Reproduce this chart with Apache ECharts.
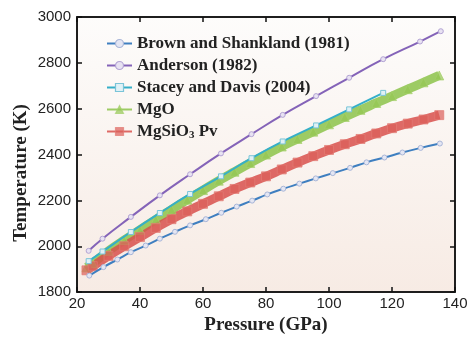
<!DOCTYPE html>
<html><head><meta charset="utf-8">
<script src="https://cdn.jsdelivr.net/npm/echarts@6/dist/echarts.min.js"></script>
<style>html,body{margin:0;padding:0;background:#fff;}#c{width:471px;height:340px;}</style>
</head><body><div id="c"></div>
<script>
// Tick labels
const xTicks = [20, 40, 60, 80, 100, 120, 140];
const yTicks = [1800, 2000, 2200, 2400, 2600, 2800, 3000];

// Brown and Shankland (1981)
const brownP = [23.9, 28.4, 32.8, 37.1, 41.8, 46.3, 51.1, 55.9, 60.9, 65.8, 70.7, 75.6, 80.4, 85.5, 90.6, 95.8, 101.2, 106.7, 111.9, 117.6, 123.3, 129.1, 135.2];
const brownT = [1872, 1909, 1942, 1974, 2003, 2033, 2063, 2091, 2118, 2146, 2173, 2199, 2226, 2251, 2273, 2296, 2319, 2342, 2366, 2387, 2409, 2429, 2448];

// Anderson (1982)
const andP = [23.7, 28.1, 37.1, 46.3, 55.9, 65.7, 75.4, 85.3, 95.9, 106.4, 117.2, 128.9, 135.5];
const andT = [1980, 2033, 2128, 2222, 2314, 2405, 2489, 2573, 2655, 2735, 2816, 2893, 2938];

// Stacey and Davis (2004)
const staP = [23.7, 28.1, 37.1, 46.3, 55.9, 65.7, 75.4, 85.3, 95.9, 106.4, 117.2];
const staT = [1935, 1977, 2062, 2145, 2228, 2305, 2384, 2457, 2527, 2597, 2669];

// MgO
const mgoP = [23, 25, 30, 35, 40, 45, 50, 55, 60, 65, 70, 75, 80, 85, 90, 95, 100, 105, 110, 115, 120, 125, 130, 135];
const mgoT = [1908, 1926, 1980, 2027, 2072, 2117, 2160, 2203, 2245, 2286, 2325, 2363, 2400, 2435, 2468, 2500, 2532, 2564, 2595, 2625, 2655, 2685, 2715, 2745];

// MgSiO3 Pv
const pvP = [23, 25, 30, 35, 40, 45, 50, 55, 60, 65, 70, 75, 80, 85, 90, 95, 100, 105, 110, 115, 120, 125, 130, 135];
const pvT = [1895, 1913, 1958, 2000, 2040, 2080, 2118, 2152, 2185, 2218, 2250, 2278, 2305, 2335, 2365, 2393, 2420, 2445, 2468, 2492, 2515, 2535, 2553, 2572];

const names = ['Brown and Shankland (1981)', 'Anderson (1982)', 'Stacey and Davis (2004)', 'MgO', 'MgSiO3 Pv'];
const colors = ['#3f7fc0', '#8463b8', '#35afc8', '#8cc34a', '#d8504c'];

function zip(a, b) { return a.map((v, i) => [v, b[i]]); }

const chart = echarts.init(document.getElementById('c'), null, {renderer: 'canvas'});
const tickFont = {fontFamily: 'Liberation Sans', fontSize: 15, color: '#222'};
const titleFont = {fontFamily: 'Liberation Serif', fontSize: 19, fontWeight: 'bold', color: '#222'};

const option = {
  animation: false,
  backgroundColor: '#fff',
  grid: {
    left: 77, right: 16, top: 17, bottom: 38, show: true,
    borderColor: '#111', borderWidth: 1.5,
    backgroundColor: new echarts.graphic.LinearGradient(0, 0, 0, 1, [
      {offset: 0, color: '#fdfcfb'}, {offset: 1, color: '#f7ebe4'}])
  },
  graphic: [{
    type: 'text', x: 21, y: 173, rotation: Math.PI / 2,
    style: {text: 'Temperature (K)', fontFamily: 'Liberation Serif', fontSize: 19, fontWeight: 'bold',
      fill: '#222', align: 'center', verticalAlign: 'middle'}
  }],
  xAxis: [{
    type: 'value', min: 20, max: 140, interval: 20, position: 'bottom',
    axisLine: {show: true, lineStyle: {color: '#111', width: 1.5}},
    axisTick: {show: true, inside: true, length: 5, lineStyle: {color: '#111', width: 1.5}},
    axisLabel: Object.assign({margin: 4, formatter: v => xTicks.includes(v) ? String(v) : ''}, tickFont),
    splitLine: {show: false},
    name: 'Pressure (GPa)', nameLocation: 'middle', nameGap: 23, nameTextStyle: titleFont
  }, {
    type: 'value', min: 20, max: 140, interval: 20, position: 'top',
    axisLine: {show: true, lineStyle: {color: '#111', width: 1.5}},
    axisTick: {show: true, inside: true, length: 5, lineStyle: {color: '#111', width: 1.5}},
    axisLabel: {show: false}, splitLine: {show: false}
  }],
  yAxis: [{
    type: 'value', min: 1800, max: 3000, interval: 200, position: 'left',
    axisLine: {show: true, lineStyle: {color: '#111', width: 1.5}},
    axisTick: {show: true, inside: true, length: 5, lineStyle: {color: '#111', width: 1.5}},
    axisLabel: Object.assign({margin: 6, formatter: v => yTicks.includes(v) ? String(v) : ''}, tickFont),
    splitLine: {show: false}
  }, {
    type: 'value', min: 1800, max: 3000, interval: 200, position: 'right',
    axisLine: {show: true, lineStyle: {color: '#111', width: 1.5}},
    axisTick: {show: true, inside: true, length: 5, lineStyle: {color: '#111', width: 1.5}},
    axisLabel: {show: false}, splitLine: {show: false}
  }],
  legend: {
    orient: 'vertical', left: 101, top: 30, itemGap: 5, itemWidth: 25, itemHeight: 10,
    textStyle: {fontFamily: 'Liberation Serif', fontSize: 17, fontWeight: 'bold', color: '#222',
      rich: {sub: {fontFamily: 'Liberation Serif', fontSize: 11, fontWeight: 'bold', color: '#222', verticalAlign: 'bottom', padding: [7, 0, 0, 0]}}},
    formatter: n => n === 'MgSiO3 Pv' ? 'MgSiO{sub|3} Pv' : n,
    data: names.map((n, i) => ({name: n, lineStyle: {width: 2}, itemStyle: {borderWidth: 1.2}}))
  },
  series: [
    {name: names[0], type: 'line', data: zip(brownP, brownT), smooth: true,
      symbol: 'circle', symbolSize: 5, lineStyle: {color: colors[0], width: 2},
      itemStyle: {color: '#e4e6f3', borderColor: '#a9b6d8', borderWidth: 1}, z: 5},
    {name: names[1], type: 'line', data: zip(andP, andT), smooth: true,
      symbol: 'circle', symbolSize: 5, lineStyle: {color: colors[1], width: 2},
      itemStyle: {color: '#e8e2f2', borderColor: '#b3a4d4', borderWidth: 1}, z: 5},
    {name: names[2], type: 'line', data: zip(staP, staT), smooth: true,
      symbol: 'rect', symbolSize: 5, lineStyle: {color: colors[2], width: 2},
      itemStyle: {color: '#e0f1f6', borderColor: '#7ac4d8', borderWidth: 1}, z: 4},
    {name: names[3], type: 'line', data: zip(mgoP, mgoT), smooth: true,
      symbol: 'triangle', symbolSize: 9, lineStyle: {color: colors[3], width: 9, opacity: 0.85},
      itemStyle: {color: '#94c653', borderColor: '#a4d06a', borderWidth: 1, opacity: 0.7}, z: 3},
    {name: names[4], type: 'line', data: zip(pvP, pvT), smooth: true,
      symbol: 'rect', symbolSize: 9, lineStyle: {color: colors[4], width: 9, opacity: 0.85},
      itemStyle: {color: '#dc5f5a', borderColor: '#e37a74', borderWidth: 1, opacity: 0.7}, z: 3}
  ]
};
chart.setOption(option);
</script></body></html>
